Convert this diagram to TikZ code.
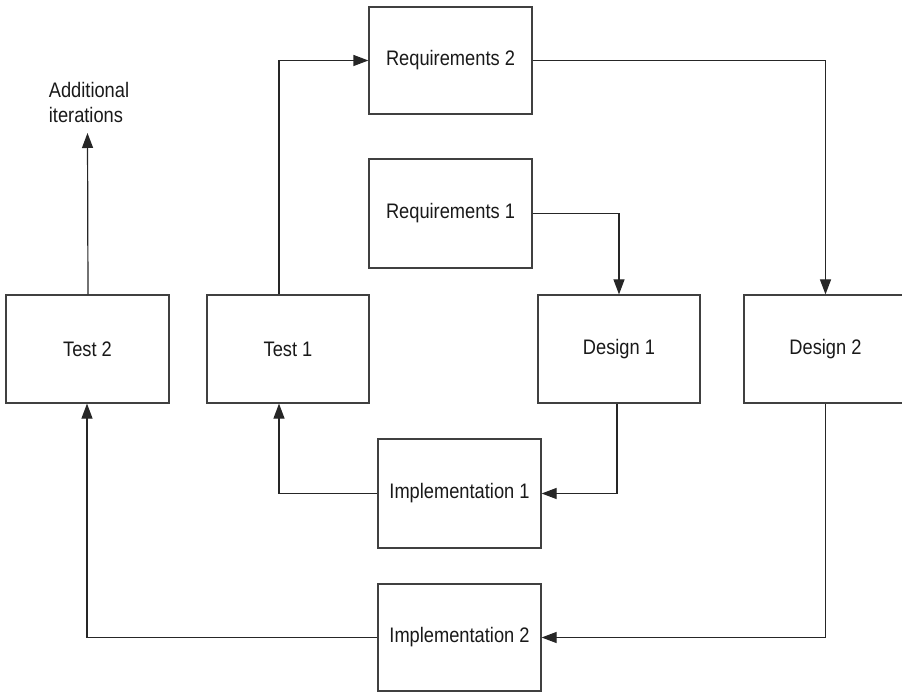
\documentclass[tikz,border=0pt]{standalone}
\usepackage{fontspec}
\setmainfont{Liberation Sans}[FakeStretch=0.87]
\usetikzlibrary{arrows.meta}

\begin{document}
\begin{tikzpicture}[x=1pt, y=-1pt,
	box/.style={draw=black!75, line width=1.2pt, minimum width=163pt, minimum height=108pt, text=black!90, inner sep=0pt},
	flow/.style={draw=black!85, line width=1.2pt, -{Triangle[length=15pt,width=11pt]}},
	font=\fontsize{21}{25}\selectfont]
	\useasboundingbox (0,0) rectangle (902,692);

	% Requirements
	\node[box, minimum height=107pt] (req2) at (450.5,60.5) {Requirements 2};
	\node[box, minimum height=109pt] (req1) at (450.5,213.5) {Requirements 1};

	% Test and design row
	\node[box] (test2) at (87.5,349) {Test 2};
	\node[box, minimum width=162pt] (test1) at (288,349) {Test 1};
	\node[box, minimum width=162pt] (design1) at (619,349) {Design 1};
	\node[box] (design2) at (825.5,349) {Design 2};

	% Implementation
	\node[box, minimum height=109pt] (impl1) at (459.5,493.5) {Implementation 1};
	\node[box, minimum height=107pt] (impl2) at (459.5,637.5) {Implementation 2};

	% Next round
	\node[align=left, text=black!90, inner sep=0pt, anchor=south] (more) at (89,123) {Additional\\iterations};

	% Connectors
	\draw[flow] (req1.east) -| (design1.north);
	\draw[flow] ([xshift=-2pt]design1.south) |- (impl1.east);
	\draw[flow] (impl1.west) -| ([xshift=-9pt]test1.south);
	\draw[flow] ([xshift=-9pt]test1.north) |- (req2.west);
	\draw[flow] (req2.east) -| (design2.north);
	\draw[flow] (design2.south) |- (impl2.east);
	\draw[flow] (impl2.west) -| ([xshift=-0.5pt]test2.south);
	\draw[flow] ([xshift=0.5pt]test2.north) -- ([yshift=-10pt]more.south -| test2.north);

\end{tikzpicture}
\end{document}
